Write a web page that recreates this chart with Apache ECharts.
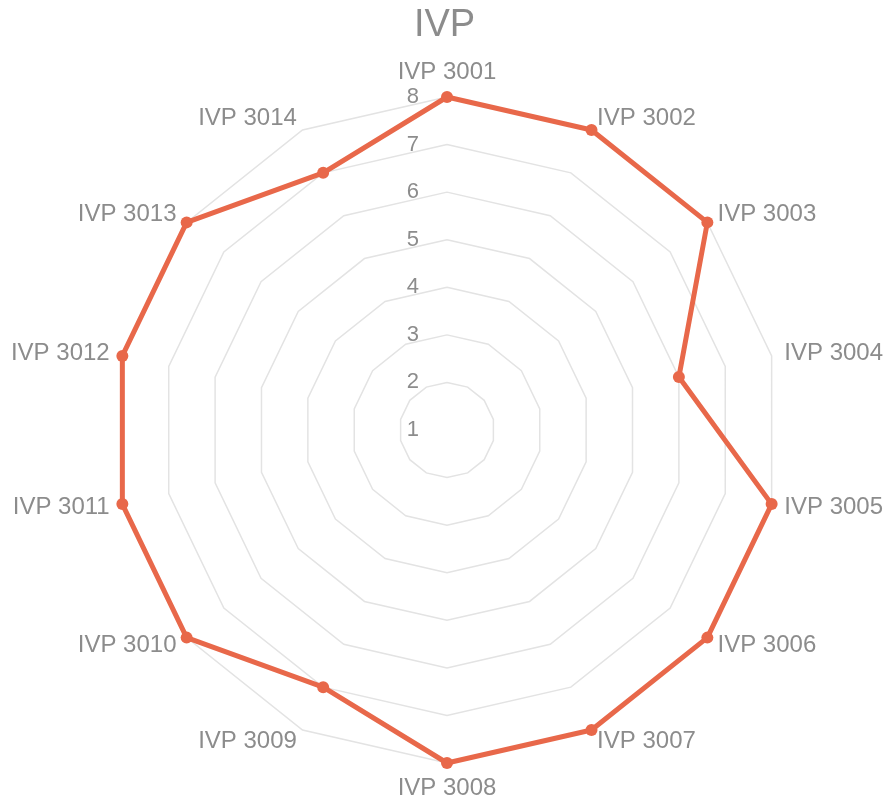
<!DOCTYPE html>
<html>
<head>
<meta charset="utf-8">
<script src="https://cdn.jsdelivr.net/npm/echarts@6/dist/echarts.min.js"></script>
<style>
  html, body { margin: 0; padding: 0; background: #fff; }
  #chart { width: 889px; height: 805px; }
</style>
</head>
<body>
<div id="chart"></div>
<script>
const names = ['IVP 3001', 'IVP 3002', 'IVP 3003', 'IVP 3004', 'IVP 3005', 'IVP 3006', 'IVP 3007',
  'IVP 3008', 'IVP 3009', 'IVP 3010', 'IVP 3011', 'IVP 3012', 'IVP 3013', 'IVP 3014']
const values = [8, 8, 8, 6, 8, 8, 8, 8, 7, 8, 8, 8, 8, 7]
const axisMin = 1
const axisMax = 8

const textColor = '#8c8c8c'

// echarts draws radar axes counter-clockwise, so keep the first one and reverse the rest
const order = [0].concat(names.map((n, i) => i).slice(1).reverse())

const chart = echarts.init(document.getElementById('chart'))

const option = {
  animation: false,
  title: {
    text: 'IVP',
    left: 'center',
    top: 2,
    textStyle: {
      color: textColor,
      fontSize: 38,
      fontWeight: 'normal',
      fontFamily: 'Liberation Sans'
    }
  },
  radar: {
    center: [447, 430],
    radius: 333,
    startAngle: 90,
    shape: 'polygon',
    splitNumber: 7,
    indicator: order.map(i => {
      const ind = { name: names[i], min: axisMin, max: axisMax }
      if (i === 0) {
        ind.axisLabel = {
          show: true,
          showMinLabel: true,
          color: textColor,
          fontSize: 22,
          fontFamily: 'Liberation Sans',
          margin: 28
        }
      }
      return ind
    }),
    axisName: {
      color: textColor,
      fontSize: 24,
      fontFamily: 'Liberation Sans'
    },
    nameGap: 13,
    axisLine: { show: false },
    axisTick: { show: false },
    splitArea: { show: false },
    splitLine: {
      lineStyle: { color: '#e3e3e3', width: 1.5 }
    },
    axisLabel: { show: false }
  },
  series: [
    {
      type: 'radar',
      symbol: 'circle',
      symbolSize: 12,
      lineStyle: { color: '#e8684a', width: 5 },
      itemStyle: { color: '#e8684a' },
      data: [{ value: order.map(i => values[i]), name: 'IVP' }]
    }
  ]
}

chart.setOption(option)
</script>
</body>
</html>
